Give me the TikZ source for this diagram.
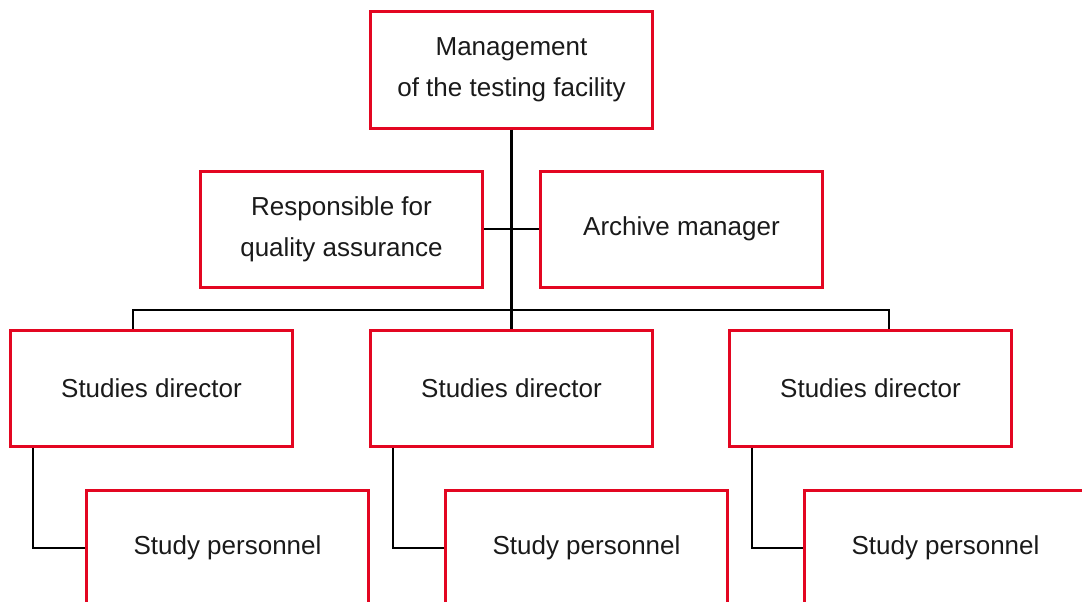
\documentclass[tikz,border=0pt]{standalone}
\usepackage{fontspec}
\setmainfont{Liberation Sans}
\usepackage{tikz}
\definecolor{boxred}{RGB}{227,6,33}
\definecolor{txtgray}{RGB}{26,26,26}

\begin{document}
\begin{tikzpicture}[x=1pt,y=-1pt,
  unit/.style={draw=boxred,line width=3pt,fill=white,minimum width=282pt,minimum height=116pt,
    inner sep=0pt,align=center,text=txtgray,font=\fontsize{26}{41}\selectfont},
  link/.style={line width=2.8pt}]
  \useasboundingbox (0,0) rectangle (1082,602);
  \clip (0,0) rectangle (1082,602);

  \node (mg) at (511.5,70) [unit] {Management\\of the testing facility};
  \node (qa) at (341.5,229) [unit] {Responsible for\\quality assurance};
  \node (ar) at (681.5,229) [unit] {Archive manager};
  \node (d1) at (151.5,388) [unit] {Studies director};
  \node (d2) at (511.5,388) [unit] {Studies director};
  \node (d3) at (870.5,388) [unit] {Studies director};
  \node (p1) at (227.5,548) [unit] {Study personnel};
  \node (p2) at (586.5,548) [unit] {Study personnel};
  \node (p3) at (945.5,548) [unit] {Study personnel};

  \coordinate (b1) at (133,310);
  \coordinate (b3) at (889,310);

  \draw[link] (mg.south) -- (d2.north);
  \draw[link] (qa.east) -- (ar.west);
  \draw[link] (b1 |- d1.north) -- (b1) -- (b3) -- (b3 |- d3.north);

  \draw[link] ([xshift=24pt]d1.south west) |- (p1.west);
  \draw[link] ([xshift=24pt]d2.south west) |- (p2.west);
  \draw[link] ([xshift=24pt]d3.south west) |- (p3.west);
\end{tikzpicture}
\end{document}
